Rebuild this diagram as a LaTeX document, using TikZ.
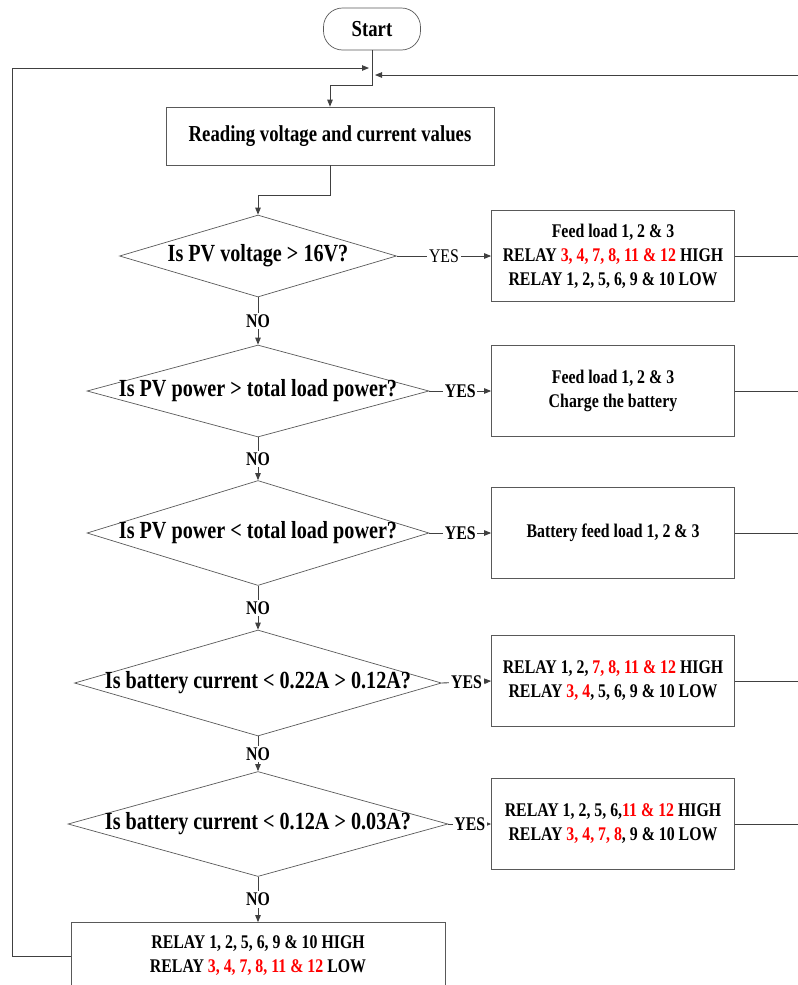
\documentclass[tikz,border=0pt]{standalone}
\usepackage{fontspec}
\setmainfont[FakeStretch=0.82]{Liberation Serif}
\usepackage{tikz}
\usetikzlibrary{arrows.meta, positioning, shapes.geometric}

\newcommand{\rd}[1]{\textcolor{red}{#1}}
\newcommand{\dq}[1]{\makebox[0pt]{#1}}

\begin{document}
\begin{tikzpicture}[
  x=0.02cm, y=-0.02cm,
  font=\fontsize{11}{13.6}\selectfont\bfseries,
  term/.style={draw=black!65, rounded corners=0.38cm, minimum width=1.94cm, minimum height=0.84cm, font=\fontsize{13}{15}\selectfont\bfseries},
  box/.style={draw=black!65, align=center, inner sep=2pt, minimum width=4.86cm, minimum height=1.82cm},
  dec/.style={draw=black!65, diamond, aspect=3.4, inner sep=0pt, font=\fontsize{14}{16}\selectfont\bfseries},
  arr/.style={-{Triangle[length=1.4mm, width=1.1mm]}, draw=black!75, line width=0.5pt},
  ln/.style={draw=black!75, line width=0.5pt},
  yn/.style={fill=white, inner sep=1pt},
]
\useasboundingbox (0,0) rectangle (798,985);
\clip (0,0) rectangle (798,985);

% ---- main column
\node[term] (start) at (372,29) {Start};
\node[box, minimum width=6.56cm, minimum height=1.16cm, font=\fontsize{13}{15}\selectfont\bfseries] (read) at (330,136) {Reading voltage and current values};
\node[dec, minimum width=5.54cm, minimum height=1.64cm] (d1) at (258,256) {\dq{Is PV voltage > 16V?}};
\node[dec, minimum width=6.84cm, minimum height=1.84cm] (d2) at (258,391) {\dq{Is PV power > total load power?}};
\node[dec, minimum width=6.84cm, minimum height=2.1cm] (d3) at (258,533) {\dq{Is PV power < total load power?}};
\node[dec, minimum width=7.34cm, minimum height=2.12cm] (d4) at (258,683) {\dq{Is battery current < 0.22A > 0.12A?}};
\node[dec, minimum width=7.6cm, minimum height=2.1cm] (d5) at (258,824) {\dq{Is battery current < 0.12A > 0.03A?}};
\node[box, minimum width=7.48cm, minimum height=1.34cm] (last) at (258,956) {RELAY 1, 2, 5, 6, 9 \& 10 HIGH\\RELAY \rd{3, 4, 7, 8, 11 \& 12} LOW};

% ---- actions
\node[box] (b1) at (613,256) {Feed load 1, 2 \& 3\\RELAY \rd{3, 4, 7, 8, 11 \& 12} HIGH\\RELAY 1, 2, 5, 6, 9 \& 10 LOW};
\node[box] (b2) at (613,391) {Feed load 1, 2 \& 3\\Charge the battery};
\node[box] (b3) at (613,533) {Battery feed load 1, 2 \& 3};
\node[box] (b4) at (613,681) {RELAY 1, 2, \rd{7, 8, 11 \& 12} HIGH\\RELAY \rd{3, 4}, 5, 6, 9 \& 10 LOW};
\node[box] (b5) at (613,824) {RELAY 1, 2, 5, 6,\rd{11 \& 12} HIGH\\RELAY \rd{3, 4, 7, 8}, 9 \& 10 LOW};

% ---- loop points
\coordinate (m1) at (372,85);
\coordinate (lt) at (12,68);
\coordinate (m2) at (369,68);
\coordinate (rt) at (800,75);
\coordinate (m3) at (375,75);
\coordinate (edge) at (800,0);

\draw[arr] (start) -- (m1) -| (read);
\draw[arr] (read.south) -- ++(0,30) -| (d1);
\draw[arr] (d1.east) -- node[yn] {\mdseries YES} (b1.west);
\foreach \i in {2,...,5}
  \draw[arr] (d\i.east) -- node[yn] {YES} (b\i.west);
\foreach \i/\j in {1/2,2/3,3/4,4/5}
  \draw[arr] (d\i) -- node[yn] {NO} (d\j);
\draw[arr] (d5) -- node[yn] {NO} (last);
\foreach \b in {b1,b2,b3,b4,b5}
  \draw[ln] (\b.east) -- (\b.east -| edge);
\draw[arr] (rt) -- (m3);
\draw[arr] (last.west) -| (lt) -- (m2);
\end{tikzpicture}
\end{document}
